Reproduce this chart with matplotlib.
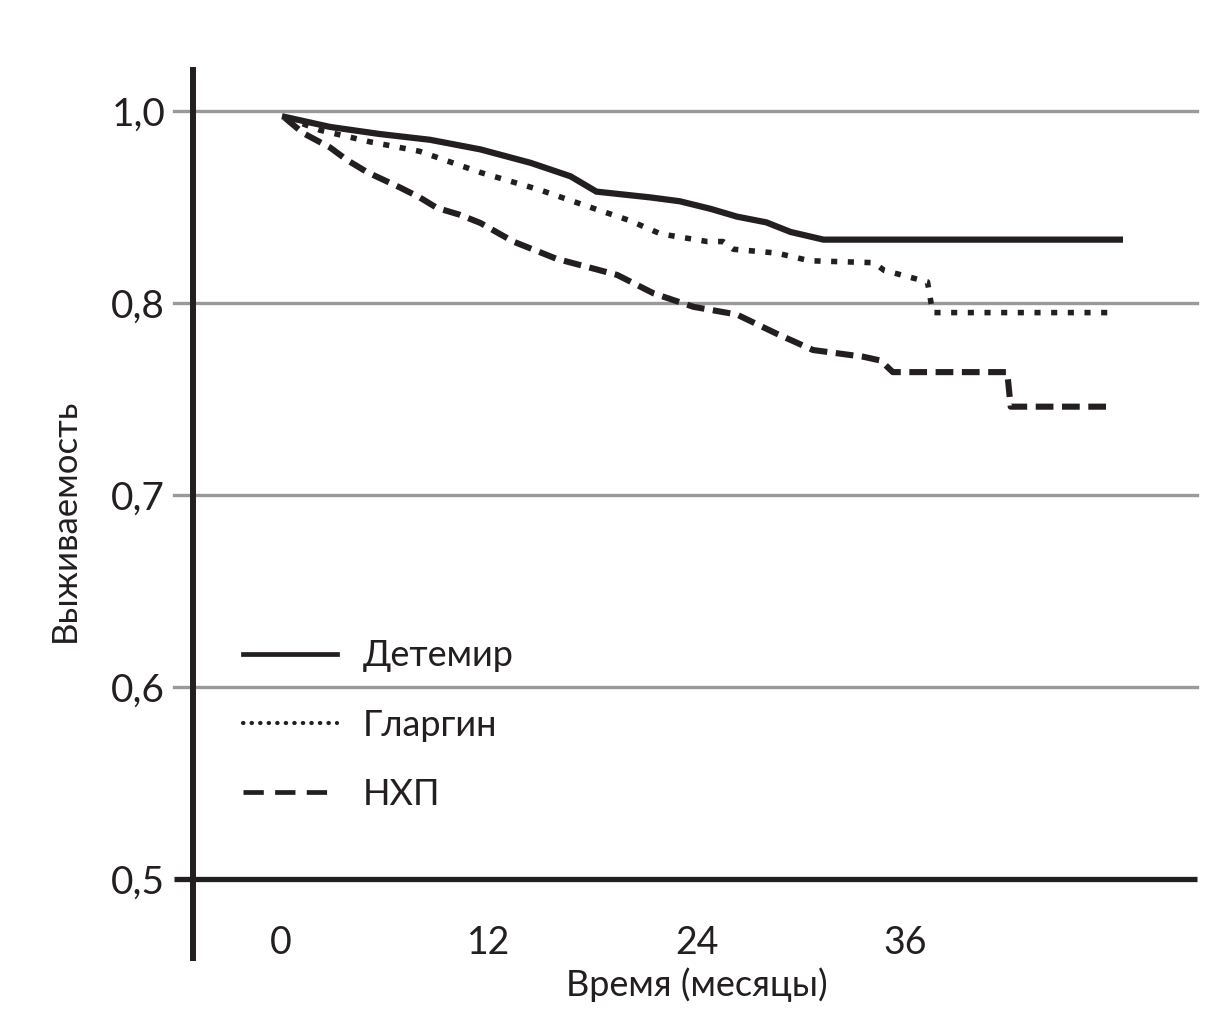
import matplotlib
matplotlib.use("Agg")
import matplotlib.pyplot as plt
from matplotlib.lines import Line2D

plt.rcParams['font.family'] = ['Lato', 'DejaVu Sans']

# ---- data (months, survival) ----
det_t = [0.23, 2.83, 5.7, 8.6, 11.5, 14.4, 16.7, 18.2, 21.3, 23.0, 24.8, 26.3, 28.0, 29.4, 31.3, 48.4]
det_s = [0.9969, 0.9917, 0.988, 0.985, 0.980, 0.973, 0.966, 0.958, 0.955, 0.953, 0.949, 0.945, 0.942, 0.937, 0.933, 0.933]

gla_t = [0.35, 2.25, 5.1, 8.0, 11.5, 14.9, 17.8, 20.1, 21.9, 24.6, 25.5, 26.1, 28.6, 30.5, 34.2, 34.8, 37.3, 37.6, 47.7]
gla_s = [0.9964, 0.990, 0.984, 0.979, 0.968, 0.959, 0.950, 0.943, 0.936, 0.932, 0.932, 0.928, 0.926, 0.922, 0.921, 0.917, 0.911, 0.895, 0.895]

nph_t = [0.23, 1.27, 2.83, 3.8, 5.0, 6.9, 8.0, 9.0, 10.3, 11.5, 13.4, 15.9, 18.0, 19.4, 21.5, 23.8, 26.3, 28.6, 30.7, 33.6, 34.6, 35.3, 41.9, 42.1, 47.7]
nph_s = [0.9964, 0.9885, 0.981, 0.9745, 0.968, 0.960, 0.955, 0.9495, 0.946, 0.9417, 0.932, 0.923, 0.918, 0.9146, 0.905, 0.898, 0.894, 0.884, 0.8755, 0.872, 0.870, 0.864, 0.864, 0.846, 0.846]

series_names = ['Детемир', 'Гларгин', 'НХП']

y_tick_pos = [1.0, 0.9, 0.8, 0.7, 0.6]
y_tick_labels = ['1,0', '0,8', '0,7', '0,6', '0,5']
x_ticks = [0, 12, 24, 36]
x_tick_labels = ['0', '12', '24', '36']

ink = '#231f20'
grid = '#999999'

fig = plt.figure(figsize=(12.31, 10.14), dpi=100)
ax = fig.add_axes([193/1231, 1 - 879/1014, (1197-193)/1231, (879-70)/1014])

ax.set_xlim(-5.077, 52.85)
ax.set_ylim(0.6, 1.02135)

# grid lines (extend left of the spine)
for yp in y_tick_pos[:-1]:
    ax.axhline(yp, xmin=-0.019, xmax=1.0, color=grid, lw=2.4, clip_on=False, zorder=1)
# baseline (0,5)
ax.axhline(y_tick_pos[-1], xmin=-0.019, xmax=1.0, color=ink, lw=3.8, clip_on=False, zorder=3,
           solid_capstyle='butt')

ax.plot(det_t, det_s, color=ink, lw=4.5, solid_joinstyle='miter', zorder=4)
ax.plot(gla_t, gla_s, color=ink, lw=4.0, dashes=(1.1, 1.9), zorder=4)
ax.plot(nph_t, nph_s, color=ink, lw=4.4, dashes=(2.9, 1.4), zorder=4)

for s in ['top', 'right', 'bottom']:
    ax.spines[s].set_visible(False)
ax.spines['left'].set_color(ink)
ax.spines['left'].set_linewidth(4.3)
ax.spines['left'].set_bounds(0.5589, 1.02135)
ax.spines['left'].set_zorder(5)

ax.set_yticks(y_tick_pos)
ax.set_yticklabels(y_tick_labels)
ax.tick_params(axis='y', length=0, pad=20, labelsize=28, labelcolor=ink)
ax.set_xticks(x_ticks)
ax.set_xticklabels(x_tick_labels)
ax.tick_params(axis='x', length=0, pad=33, labelsize=27, labelcolor=ink)

ax.set_xlabel('Время (месяцы)', fontsize=26, color=ink)
ax.xaxis.set_label_coords(0.502, -0.131)
ax.xaxis.label.set_va('center')
ax.set_ylabel('Выживаемость', fontsize=25, color=ink)
ax.yaxis.set_label_coords(-0.1275, 0.4438)
ax.yaxis.label.set_va('center')

handles = [
    Line2D([], [], color=ink, lw=3.4),
    Line2D([], [], color=ink, lw=3.0, dashes=(0.1, 1.95), dash_capstyle='round'),
    Line2D([], [], color=ink, lw=3.4, dashes=(4.3, 2.4)),
]
leg = ax.legend(handles, series_names, loc='center left',
                bbox_to_anchor=((243-193)/1004, (879-725)/809),
                frameon=False, fontsize=26, handlelength=2.6, handletextpad=0.72,
                labelspacing=1.0, borderpad=0, borderaxespad=0)
for t in leg.get_texts():
    t.set_color(ink)

fig.savefig('out.png', dpi=100, facecolor='white')
